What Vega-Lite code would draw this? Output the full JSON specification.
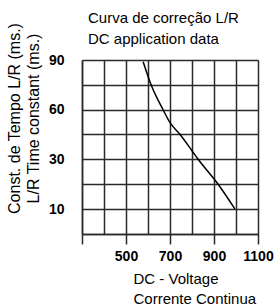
{
  "$schema": "https://vega.github.io/schema/vega-lite/v6.json",
  "width": 176,
  "height": 174,
  "autosize": {"type": "none"},
  "padding": {"left": 82, "top": 60, "right": 22, "bottom": 72},
  "background": "white",
  "title": {
    "text": ["Curva de correção L/R", "DC application data"],
    "anchor": "start",
    "frame": "group",
    "font": "Liberation Sans",
    "fontSize": 15,
    "fontWeight": "normal",
    "color": "black",
    "lineHeight": 21,
    "offset": -25,
    "dx": 6
  },
  "data": {
    "values": [
      {"voltage": 578, "tau": 89},
      {"voltage": 614, "tau": 75},
      {"voltage": 668, "tau": 60},
      {"voltage": 700, "tau": 52},
      {"voltage": 745, "tau": 45},
      {"voltage": 800, "tau": 35},
      {"voltage": 827, "tau": 30},
      {"voltage": 918, "tau": 20},
      {"voltage": 995, "tau": 10}
    ]
  },
  "mark": {"type": "line", "color": "black", "strokeWidth": 1.5, "interpolate": "monotone"},
  "encoding": {
    "x": {
      "field": "voltage",
      "type": "quantitative",
      "scale": {"domain": [300, 1100], "nice": false, "zero": false},
      "axis": {
        "values": [300, 400, 500, 600, 700, 800, 900, 1000, 1100],
        "grid": true,
        "gridColor": "#2a2a2a",
        "gridWidth": 1.5,
        "gridOpacity": 1,
        "domainColor": "#2a2a2a",
        "domainWidth": 1.5,
        "tickColor": "#2a2a2a",
        "tickWidth": 1.5,
        "tickSize": 10,
        "tickOpacity": {"condition": {"test": "datum.value % 200 == 100", "value": 1}, "value": 0},
        "labelExpr": "(datum.value == 300 || datum.value % 200 == 0) ? '' : datum.label",
        "format": "d",
        "labelFont": "Liberation Sans",
        "labelFontSize": 14,
        "labelFontWeight": "bold",
        "labelColor": "black",
        "labelPadding": 5,
        "labelFlush": false,
        "labelOverlap": false,
        "title": ["DC - Voltage", "Corrente Continua"],
        "titleFont": "Liberation Sans",
        "titleFontSize": 15,
        "titleFontWeight": "normal",
        "titleColor": "black",
        "titleLineHeight": 20,
        "titleAlign": "left",
        "titleBaseline": "alphabetic",
        "titleX": 51,
        "titleY": 49
      }
    },
    "y": {
      "field": "tau",
      "type": "quantitative",
      "scale": {"domain": [0, 30, 90], "range": [174, 99, 0], "nice": false, "zero": false},
      "axis": {
        "values": [0, 10, 20, 30, 45, 60, 75, 90],
        "grid": true,
        "gridColor": "#2a2a2a",
        "gridWidth": 1.5,
        "gridOpacity": 1,
        "domainColor": "#2a2a2a",
        "domainWidth": 1.5,
        "ticks": false,
        "labelExpr": "(datum.value == 10 || datum.value == 30 || datum.value == 60 || datum.value == 90) ? datum.label : ''",
        "labelFont": "Liberation Sans",
        "labelFontSize": 14,
        "labelFontWeight": "bold",
        "labelColor": "black",
        "labelPadding": 18,
        "labelOverlap": false,
        "title": ["Const. de Tempo L/R (ms.)", "L/R Time constant (ms.)"],
        "titleFont": "Liberation Sans",
        "titleFontSize": 16,
        "titleFontWeight": "normal",
        "titleColor": "black",
        "titleLineHeight": 19,
        "titleAngle": -90,
        "titleAlign": "center",
        "titleBaseline": "alphabetic",
        "titleX": -63,
        "titleY": 58
      }
    }
  },
  "config": {"view": {"stroke": null}}
}
